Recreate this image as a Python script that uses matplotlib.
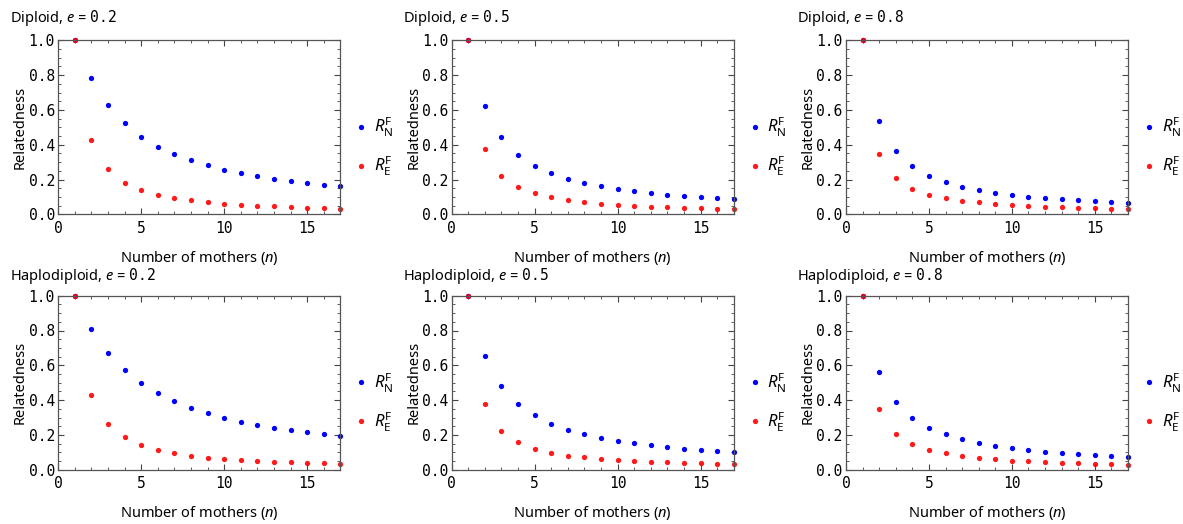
import matplotlib
matplotlib.use("Agg")
import matplotlib.pyplot as plt
from matplotlib.ticker import MultipleLocator

plt.rcParams['font.family'] = ['Noto Sans', 'DejaVu Sans']
plt.rcParams['mathtext.fontset'] = 'custom'
plt.rcParams['mathtext.rm'] = 'Noto Sans'
plt.rcParams['mathtext.it'] = 'Noto Sans:italic'
plt.rcParams['mathtext.tt'] = 'DejaVu Sans Mono'

# numero de maes
n = list(range(1, 18))

# Diploide
dip_02_N = [1.0, 0.785, 0.630, 0.523, 0.446, 0.389, 0.345, 0.310, 0.282, 0.257, 0.236, 0.220, 0.205, 0.192, 0.180, 0.170, 0.161]
dip_02_E = [1.0, 0.427, 0.261, 0.182, 0.138, 0.111, 0.094, 0.080, 0.069, 0.061, 0.056, 0.050, 0.046, 0.042, 0.038, 0.036, 0.033]
dip_05_N = [1.0, 0.625, 0.444, 0.343, 0.280, 0.236, 0.203, 0.180, 0.161, 0.146, 0.132, 0.123, 0.113, 0.105, 0.098, 0.092, 0.086]
dip_05_E = [1.0, 0.374, 0.222, 0.157, 0.121, 0.098, 0.080, 0.071, 0.061, 0.054, 0.050, 0.044, 0.042, 0.038, 0.036, 0.033, 0.031]
dip_08_N = [1.0, 0.538, 0.364, 0.276, 0.222, 0.186, 0.159, 0.140, 0.125, 0.111, 0.102, 0.094, 0.086, 0.080, 0.075, 0.071, 0.067]
dip_08_E = [1.0, 0.347, 0.207, 0.148, 0.113, 0.092, 0.079, 0.069, 0.059, 0.054, 0.048, 0.044, 0.040, 0.038, 0.036, 0.033, 0.031]

# Haplodiploide
hap_02_N = [1.0, 0.808, 0.670, 0.571, 0.496, 0.439, 0.393, 0.356, 0.326, 0.299, 0.276, 0.259, 0.241, 0.226, 0.215, 0.203, 0.193]
hap_02_E = [1.0, 0.430, 0.264, 0.186, 0.142, 0.113, 0.094, 0.079, 0.069, 0.061, 0.056, 0.050, 0.046, 0.042, 0.038, 0.036, 0.033]
hap_05_N = [1.0, 0.651, 0.479, 0.377, 0.312, 0.264, 0.230, 0.205, 0.184, 0.167, 0.151, 0.140, 0.130, 0.121, 0.113, 0.105, 0.100]
hap_05_E = [1.0, 0.377, 0.224, 0.157, 0.121, 0.098, 0.080, 0.071, 0.061, 0.054, 0.048, 0.044, 0.042, 0.038, 0.036, 0.033, 0.031]
hap_08_N = [1.0, 0.561, 0.391, 0.299, 0.241, 0.203, 0.176, 0.155, 0.138, 0.125, 0.113, 0.103, 0.096, 0.090, 0.084, 0.079, 0.073]
hap_08_E = [1.0, 0.347, 0.207, 0.148, 0.111, 0.094, 0.077, 0.067, 0.059, 0.052, 0.048, 0.044, 0.040, 0.036, 0.034, 0.033, 0.029]

panels = [
  ("Diploid", "0.2", dip_02_N, dip_02_E),
  ("Diploid", "0.5", dip_05_N, dip_05_E),
  ("Diploid", "0.8", dip_08_N, dip_08_E),
  ("Haplodiploid", "0.2", hap_02_N, hap_02_E),
  ("Haplodiploid", "0.5", hap_05_N, hap_05_E),
  ("Haplodiploid", "0.8", hap_08_N, hap_08_E),
]

W, H = 1183, 524
fig = plt.figure(figsize=(W / 100, H / 100), dpi=100)

col_left = [58.3, 451.7, 846.0]
row_bottom = [214.3, 469.7]
title_x = [10, 403, 797]
title_y = [17.5, 275.5]
ax_w, ax_h = 282, 174

mono = 'DejaVu Sans Mono'

for i, (kind, e, rn, re) in enumerate(panels):
  r, c = divmod(i, 3)
  ax = fig.add_axes([col_left[c] / W, 1 - row_bottom[r] / H, ax_w / W, ax_h / H])
  ax.plot(n, rn, 'o', color='#0000ff', ms=3.8, mew=0, clip_on=False,
          label=r'$R_{\mathrm{N}}^{\mathrm{F}}$')
  ax.plot(n, re, 'o', color='#ff0000', ms=3.8, mew=0, alpha=0.9, clip_on=False,
          label=r'$R_{\mathrm{E}}^{\mathrm{F}}$')
  ax.set_xlim(0, 17)
  ax.set_ylim(0, 1)
  ax.xaxis.set_major_locator(MultipleLocator(5))
  ax.xaxis.set_minor_locator(MultipleLocator(1))
  ax.yaxis.set_major_locator(MultipleLocator(0.2))
  ax.yaxis.set_minor_locator(MultipleLocator(0.05))
  ax.set_yticklabels([f'{v:.1f}' for v in ax.get_yticks()])
  ax.tick_params(which='both', direction='in', top=True, right=True, colors='#444444',
                 labelcolor='black')
  ax.tick_params(which='major', length=4.5, width=0.8)
  ax.tick_params(which='minor', length=2.5, width=0.6)
  ax.tick_params(axis='x', pad=4.5)
  ax.tick_params(axis='y', pad=2.5)
  for lab in ax.get_xticklabels() + ax.get_yticklabels():
    lab.set_family(mono)
    lab.set_fontsize(10.5)
  for s in ax.spines.values():
    s.set_color('#555555')
    s.set_linewidth(0.9)
  ax.set_xlabel(r'Number of mothers ($n$)', fontsize=10.5)
  ax.set_ylabel('Relatedness', fontsize=10.5)
  ax.xaxis.set_label_coords(0.5, -0.2)
  ax.yaxis.set_label_coords(-0.108, 0.5)
  ax.legend(loc='center left', bbox_to_anchor=(1.01, 0.385), frameon=False,
            fontsize=12, handletextpad=0.15, labelspacing=0.95, handlelength=1.2,
            borderpad=0)
  fig.text(title_x[c] / W, 1 - title_y[r] / H,
           kind + r', $e$ = $\mathtt{' + e + '}$', fontsize=10.5, va='center', ha='left')

fig.savefig('out.png', dpi=100)
